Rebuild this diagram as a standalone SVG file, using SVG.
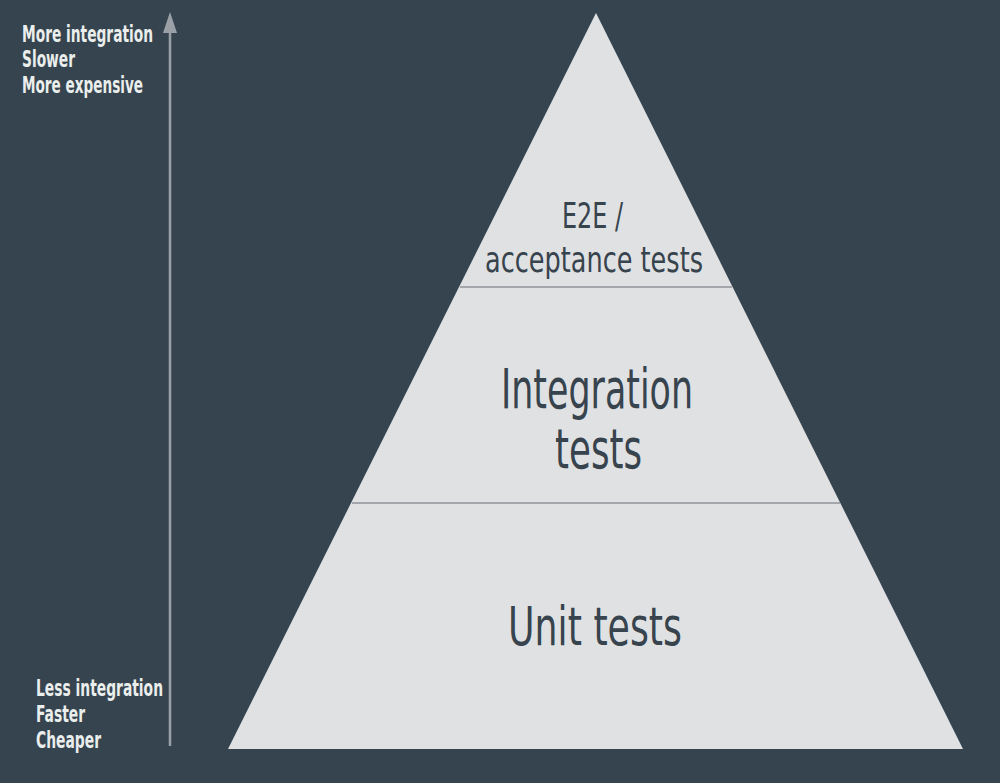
<svg xmlns="http://www.w3.org/2000/svg" width="1000" height="783" viewBox="0 0 1000 783">
<style>
.t{font-family:"Liberation Sans Narrow","DejaVu Sans Condensed","Liberation Sans",sans-serif;font-stretch:condensed}
.big{fill:#37434d;text-anchor:start}
.side{fill:#eaeeec;font-weight:bold}
.sep{stroke:#a3a7ab;stroke-width:2}
.axis{stroke:#9aa0a6;stroke-width:2.5}
.head{fill:#9aa0a6}
</style>
<rect width="1000" height="783" fill="#36444f"/>
<g id="connectors">
<line class="axis" x1="170" y1="746" x2="170" y2="30"/>
<path class="head" d="M170 12 L177 33 L163 33 Z"/>
</g>
<g id="pyramid">
<polygon points="596,13 963,749 228,749" fill="#e0e1e3"/>
<line class="sep" x1="460" y1="287" x2="732" y2="287"/>
<line class="sep" x1="352" y1="503" x2="840" y2="503"/>
</g>
<g id="e2e">
<text class="t big" x="562" y="228" font-size="36" textLength="61" lengthAdjust="spacingAndGlyphs">E2E /</text>
<text class="t big" x="485" y="272" font-size="36" textLength="218" lengthAdjust="spacingAndGlyphs">acceptance tests</text>
</g>
<g id="integration">
<text class="t big" x="501" y="408" font-size="56" textLength="192" lengthAdjust="spacingAndGlyphs">Integration</text>
<text class="t big" x="555" y="468" font-size="56" textLength="87" lengthAdjust="spacingAndGlyphs">tests</text>
</g>
<g id="unit">
<text class="t big" x="508" y="645" font-size="53" textLength="174" lengthAdjust="spacingAndGlyphs">Unit tests</text>
</g>
<g id="top-labels">
<text class="t side" x="22" y="42" font-size="23" textLength="131" lengthAdjust="spacingAndGlyphs">More integration</text>
<text class="t side" x="22" y="67" font-size="23" textLength="53" lengthAdjust="spacingAndGlyphs">Slower</text>
<text class="t side" x="22" y="93" font-size="23" textLength="121" lengthAdjust="spacingAndGlyphs">More expensive</text>
</g>
<g id="bottom-labels">
<text class="t side" x="36" y="696" font-size="23" textLength="127" lengthAdjust="spacingAndGlyphs">Less integration</text>
<text class="t side" x="36" y="722" font-size="23" textLength="49" lengthAdjust="spacingAndGlyphs">Faster</text>
<text class="t side" x="36" y="748" font-size="23" textLength="65" lengthAdjust="spacingAndGlyphs">Cheaper</text>
</g>
</svg>
